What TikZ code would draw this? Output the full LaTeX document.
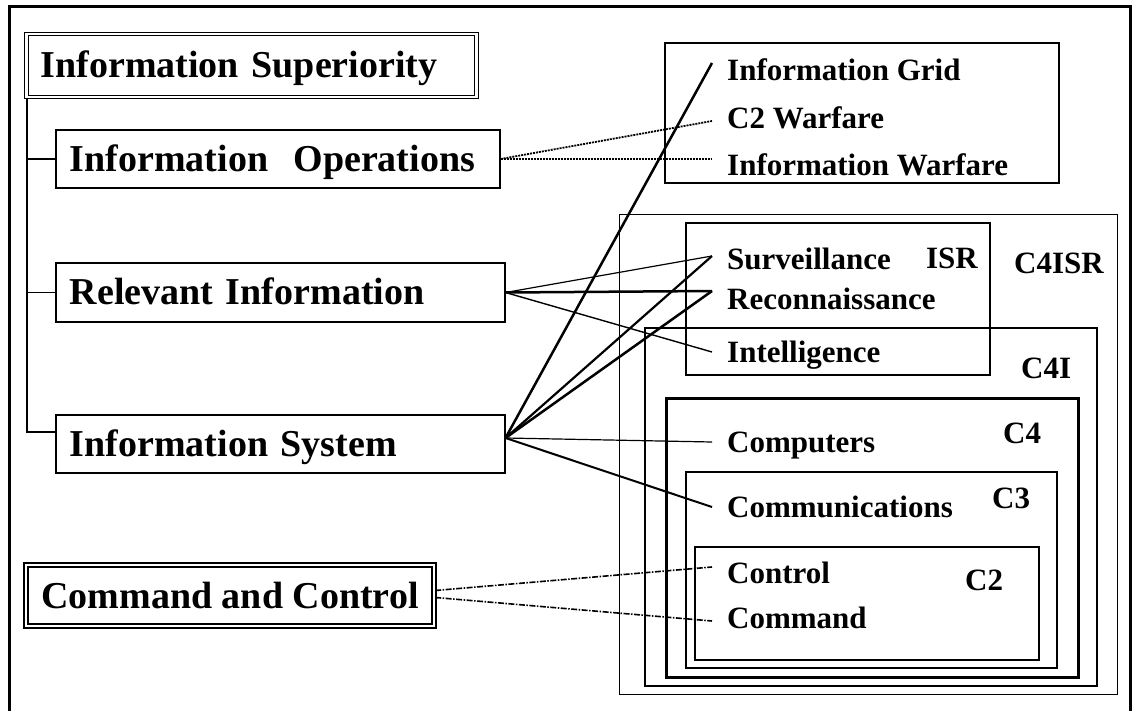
\documentclass[tikz,border=0pt]{standalone}
\usepackage{fontspec}
\setmainfont{Liberation Serif}
\usetikzlibrary{positioning}

\begin{document}
\begin{tikzpicture}[
        x=1pt, y=-1pt,
        mainbox/.style={ draw, line width=1.5pt, anchor=west, align=left, inner xsep=14pt,
                         font=\fontsize{38}{42}\selectfont\bfseries, text height=25pt, text depth=0pt },
        dbox/.style={ mainbox, double, double distance=2.5pt, line width=1.2pt },
        item/.style={ anchor=west, inner xsep=15pt, inner ysep=0pt,
                      font=\fontsize{31}{33}\selectfont\bfseries, text height=20.5pt, text depth=0pt },
        tag/.style={ item, inner xsep=0pt },
        dotline/.style={ dash pattern=on 2pt off 1pt, line width=1.8pt },
        dashdotline/.style={ dash pattern=on 6pt off 1.5pt on 1.5pt off 1.5pt, line width=1.6pt }
    ]
    \useasboundingbox (0,0) rectangle (1140,711);

    % frame
    \draw[line width=3pt] (9,711) -- (9,7) -- (1130,7) -- (1130,711);

    % left column
    \node[dbox, text width=422pt, minimum height=63pt] (isup) at (26,65.5) {Information Superiority};
    \node[mainbox, text width=416pt, minimum height=58pt] (iops) at (55,159) {Information~~Operations};
    \node[mainbox, text width=421pt, minimum height=59pt] (relinfo) at (55,292.5) {Relevant Information};
    \node[mainbox, text width=421pt, minimum height=58pt] (isys) at (55,444) {Information System};
    \node[dbox, line width=2.2pt, double distance=2pt, minimum width=408pt, minimum height=61pt] (cc) at (25,595.5) {Command and Control};

    \coordinate (treetop) at ([xshift=1pt]isup.south west);
    \draw[line width=1.5pt] (treetop) |- ([yshift=12pt]isys.west);
    \draw[line width=1.5pt] (treetop |- iops.west) -- (iops.west);
    \draw[line width=1.5pt] (treetop |- relinfo.west) -- (relinfo.west);

    % nested boxes
    \draw[line width=2.5pt] (665,43) rectangle (1059,183);
    \draw[line width=1pt] (619,215) rectangle (1117,694);
    \draw[line width=2pt] (686,223) rectangle (990,375);
    \draw[line width=1.5pt] (645,328) rectangle (1097,686);
    \draw[line width=3pt] (666,398) rectangle (1078,677);
    \draw[line width=1.5pt] (686,472) rectangle (1057,668);
    \draw[line width=1.5pt] (695,547) rectangle (1039,660);

    % right column
    \node[item] (igrid) at (712,70) {Information Grid};
    \node[item] (c2war) at (712,118) {C2 Warfare};
    \node[item] (iwar) at (712,165) {Information Warfare};
    \node[item] (surv) at (712,259) {Surveillance};
    \node[item] (recon) at (712,299) {Reconnaissance};
    \node[item] (intel) at (712,352) {Intelligence};
    \node[item] (comp) at (712,442) {Computers};
    \node[item] (comm) at (712,507) {Communications};
    \node[item] (ctrl) at (712,573) {Control};
    \node[item] (cmd) at (712,618) {Command};

    \node[tag, anchor=east] (isrtag) at (978,258) {ISR};
    \node[tag] (c4isrtag) at (1014,263) {C4ISR};
    \node[tag] (c4itag) at (1021,368) {C4I};
    \node[tag] (c4tag) at (1003,433) {C4};
    \node[tag] (c3tag) at (992,498) {C3};
    \node[tag] (c2tag) at (965,580) {C2};

    % connectors
    \draw[dotline] (iops.east) -- ([yshift=-3pt]c2war.west);
    \draw[dotline] (iops.east) -- ([yshift=6pt]iwar.west);

    \coordinate (isysout) at ([yshift=6pt]isys.east);
    \draw[line width=2.5pt] (isysout) -- ([yshift=7pt]igrid.west);
    \draw[line width=2.2pt] (isysout) -- ([yshift=3pt]surv.west);
    \draw[line width=2.5pt] (isysout) -- ([yshift=8pt]recon.west);
    \draw[line width=1.2pt] (isysout) -- (comp.west);
    \draw[line width=2pt] (isysout) -- (comm.west);

    \draw[line width=1.2pt] (relinfo.east) -- ([yshift=3pt]surv.west);
    \draw[line width=2.5pt] (relinfo.east) -- ([yshift=8pt]recon.west);
    \draw[line width=1.4pt] (relinfo.east) -- (intel.west);

    \draw[dashdotline] ([yshift=5pt]cc.east) -- ([yshift=6pt]ctrl.west);
    \draw[dashdotline] ([yshift=-2pt]cc.east) -- ([yshift=-3pt]cmd.west);
\end{tikzpicture}
\end{document}
